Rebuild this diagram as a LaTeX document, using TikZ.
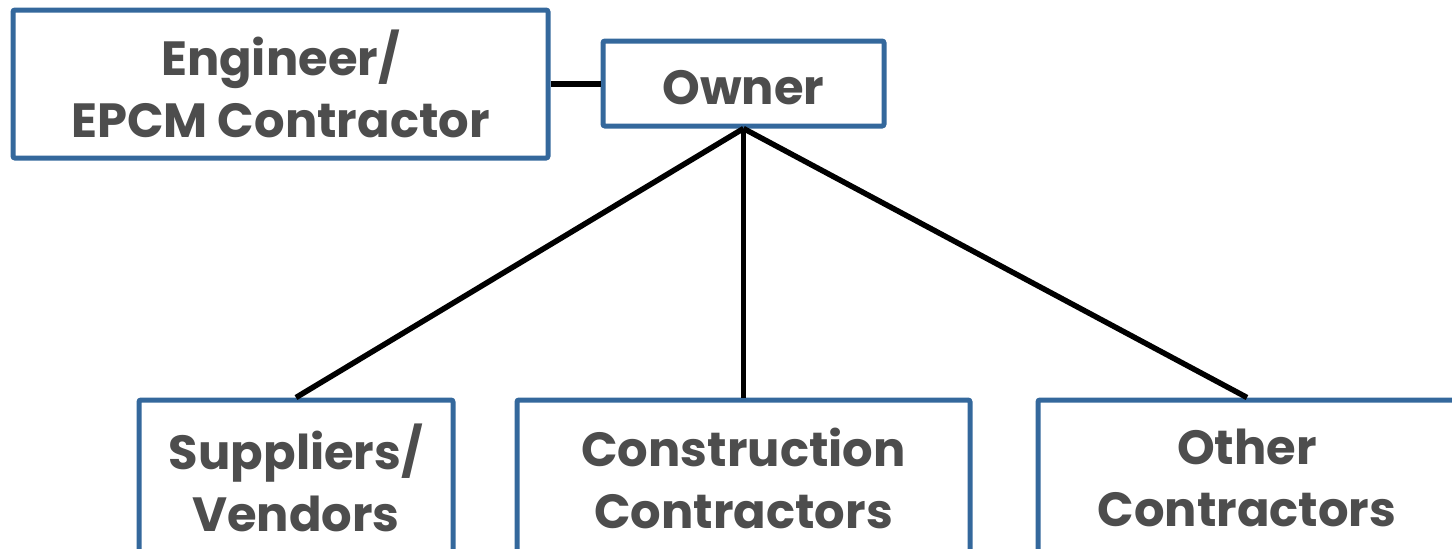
\documentclass[tikz,border=0pt]{standalone}
\usepackage{fontspec}
\setmainfont{Poppins}
\usetikzlibrary{positioning}
\definecolor{boxblue}{RGB}{52,104,156}
\definecolor{textgray}{RGB}{77,77,77}
\tikzstyle{box} = [draw=boxblue, line width=2.5pt, rounded corners=1pt, fill=white, text=textgray, align=center, inner sep=0pt, font=\fontsize{24}{31}\selectfont\bfseries]
\tikzstyle{line} = [draw, line width=2.75pt]

\begin{document}
\begin{tikzpicture}[x=0.5pt,y=-0.5pt]
\useasboundingbox (0,0) rectangle (1452,548);
\node[box, minimum width=267.5pt, minimum height=74pt] (engineer) at (280.5,84) {Engineer/\\EPCM Contractor};
\node[box, minimum width=140.5pt, minimum height=42.5pt, text height=21pt, text depth=0pt] (owner) at (743.5,83.5) {Owner};
\node[box, minimum width=157pt, minimum height=78pt] (suppliers) at (296,478) {Suppliers/\\Vendors};
\node[box, minimum width=226.5pt, minimum height=78pt] (construction) at (743.5,478) {Construction\\Contractors};
\node[box, minimum width=209pt, minimum height=78pt] (others) at (1247,478) {Other\\Contractors};
\draw[line] (engineer.east) -- (engineer.east -| owner.west);
\draw[line] (owner.south) -- (suppliers.north);
\draw[line] (owner.south) -- (construction.north);
\draw[line] (owner.south) -- (others.north);
\end{tikzpicture}
\end{document}
